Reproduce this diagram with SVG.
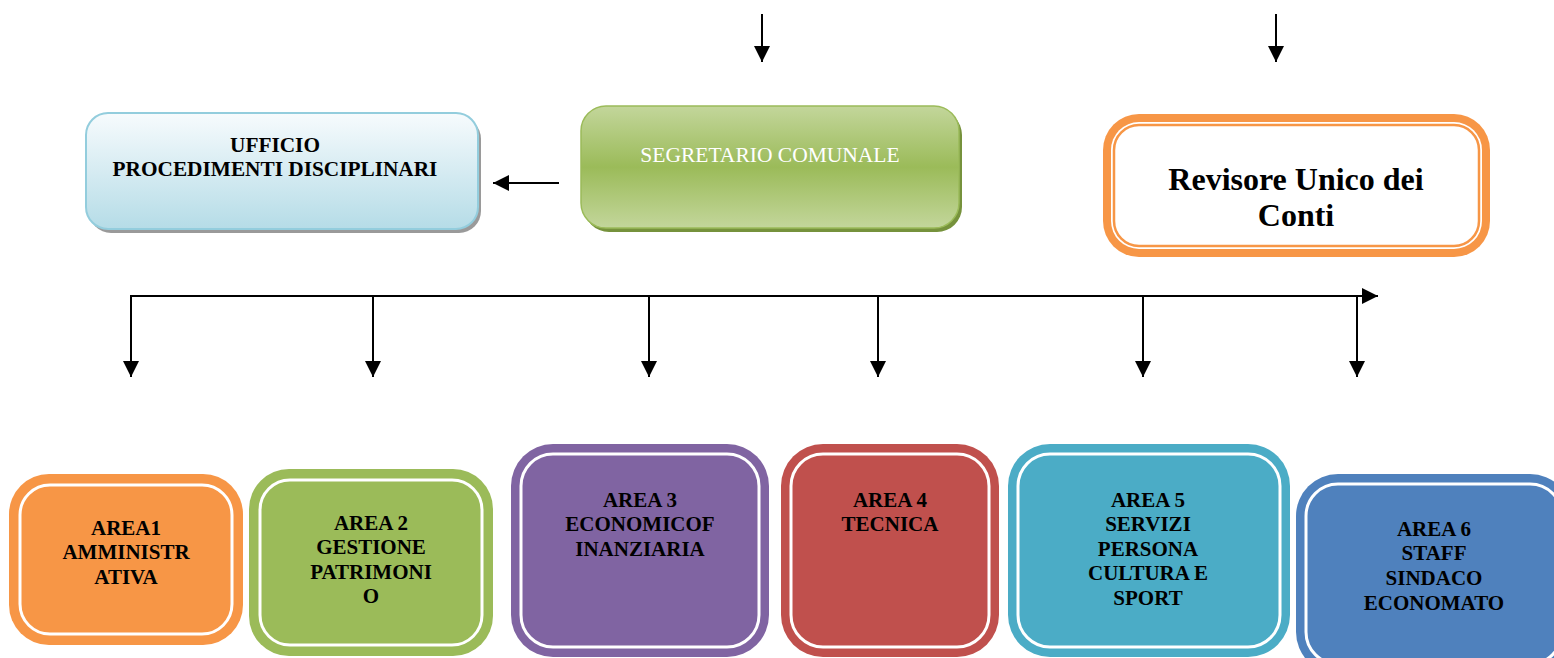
<svg xmlns="http://www.w3.org/2000/svg" width="1554" height="658" viewBox="0 0 1554 658">
<style>
.b{font-family:"Liberation Serif","Times New Roman",serif;font-weight:bold;fill:#000;text-anchor:middle}
.a{font-size:21px}
.ln{stroke:#000;stroke-width:2;fill:none}
.inl{fill:none;stroke:#fff;stroke-width:3}
</style>
<defs>
<linearGradient id="gBlue" x1="0" y1="0" x2="0" y2="1">
<stop offset="0" stop-color="#f7fbfd"/>
<stop offset="1" stop-color="#b5dce7"/>
</linearGradient>
<linearGradient id="gGreen" x1="0" y1="0" x2="0" y2="1">
<stop offset="0" stop-color="#c3d69b"/>
<stop offset="0.5" stop-color="#9bbb59"/>
<stop offset="1" stop-color="#c3d69b"/>
</linearGradient>
<marker id="ah" viewBox="0 0 16 16" refX="16" refY="8" markerWidth="16" markerHeight="16" markerUnits="userSpaceOnUse" orient="auto">
<path d="M0,0 L16,8 L0,16 Z" fill="#000"/>
</marker>
</defs>

<g id="connectors">
<line class="ln" x1="762" y1="14" x2="762" y2="62" marker-end="url(#ah)"/>
<line class="ln" x1="1276" y1="14" x2="1276" y2="62" marker-end="url(#ah)"/>
<line class="ln" x1="559" y1="183" x2="493" y2="183" marker-end="url(#ah)"/>
<line class="ln" x1="130" y1="296" x2="1378" y2="296" marker-end="url(#ah)"/>
<line class="ln" x1="131" y1="295" x2="131" y2="377" marker-end="url(#ah)"/>
<line class="ln" x1="373" y1="295" x2="373" y2="377" marker-end="url(#ah)"/>
<line class="ln" x1="649" y1="295" x2="649" y2="377" marker-end="url(#ah)"/>
<line class="ln" x1="878" y1="295" x2="878" y2="377" marker-end="url(#ah)"/>
<line class="ln" x1="1143" y1="295" x2="1143" y2="377" marker-end="url(#ah)"/>
<line class="ln" x1="1357" y1="295" x2="1357" y2="377" marker-end="url(#ah)"/>
</g>

<g id="ufficio">
<rect x="89" y="117" width="392" height="116" rx="22" fill="#9a9a9a"/>
<rect x="86" y="113" width="392" height="116" rx="22" fill="url(#gBlue)" stroke="#93cddd" stroke-width="2"/>
<text class="b" font-size="21.3" x="275" y="152">UFFICIO</text>
<text class="b" font-size="21.3" x="275" y="176">PROCEDIMENTI DISCIPLINARI</text>
</g>

<g id="segretario">
<rect x="584" y="110" width="378" height="122" rx="25" fill="#76923c"/>
<rect x="581" y="106" width="378" height="122" rx="25" fill="url(#gGreen)" stroke="#9bbb59" stroke-width="1.5"/>
<text font-family="Liberation Serif,Times New Roman,serif" font-size="21.5" fill="#fff" text-anchor="middle" x="770" y="162">SEGRETARIO COMUNALE</text>
</g>

<g id="revisore">
<rect x="1103" y="114" width="387" height="143" rx="36" fill="#f79646"/>
<rect x="1111" y="122" width="371" height="127" rx="28" fill="#fff"/>
<rect x="1114" y="125" width="365" height="121" rx="25" fill="none" stroke="#f79646" stroke-width="2.5"/>
<text class="b" font-size="32" x="1296" y="190">Revisore Unico dei</text>
<text class="b" font-size="32" x="1296" y="226">Conti</text>
</g>

<g id="area1">
<rect x="9" y="474" width="234" height="171" rx="40" fill="#f79646"/>
<rect class="inl" x="20" y="485" width="212" height="149" rx="30"/>
<text class="b a" x="126" y="535">AREA1</text>
<text class="b a" x="126" y="559">AMMINISTR</text>
<text class="b a" x="126" y="584">ATIVA</text>
</g>

<g id="area2">
<rect x="249" y="469" width="244" height="187" rx="40" fill="#9bbb59"/>
<rect class="inl" x="260" y="480" width="222" height="165" rx="30"/>
<text class="b a" x="371" y="530">AREA 2</text>
<text class="b a" x="371" y="554">GESTIONE</text>
<text class="b a" x="371" y="579">PATRIMONI</text>
<text class="b a" x="371" y="603">O</text>
</g>

<g id="area3">
<rect x="511" y="444" width="258" height="213" rx="42" fill="#8064a2"/>
<rect class="inl" x="521" y="454" width="238" height="193" rx="32"/>
<text class="b a" x="640" y="507">AREA 3</text>
<text class="b a" x="640" y="531">ECONOMICOF</text>
<text class="b a" x="640" y="556">INANZIARIA</text>
</g>

<g id="area4">
<rect x="781" y="444" width="218" height="213" rx="42" fill="#c0504d"/>
<rect class="inl" x="791" y="454" width="198" height="193" rx="32"/>
<text class="b a" x="890" y="507">AREA 4</text>
<text class="b a" x="890" y="531">TECNICA</text>
</g>

<g id="area5">
<rect x="1008" y="444" width="282" height="213" rx="42" fill="#4bacc6"/>
<rect class="inl" x="1018" y="454" width="262" height="193" rx="32"/>
<text class="b a" x="1148" y="507">AREA 5</text>
<text class="b a" x="1148" y="531">SERVIZI</text>
<text class="b a" x="1148" y="556">PERSONA</text>
<text class="b a" x="1148" y="580">CULTURA E</text>
<text class="b a" x="1148" y="605">SPORT</text>
</g>

<g id="area6">
<rect x="1296" y="474" width="276" height="200" rx="42" fill="#4f81bd"/>
<rect class="inl" x="1306" y="484" width="256" height="180" rx="32"/>
<text class="b a" x="1434" y="536">AREA 6</text>
<text class="b a" x="1434" y="560">STAFF</text>
<text class="b a" x="1434" y="585">SINDACO</text>
<text class="b a" x="1434" y="610">ECONOMATO</text>
</g>
</svg>
